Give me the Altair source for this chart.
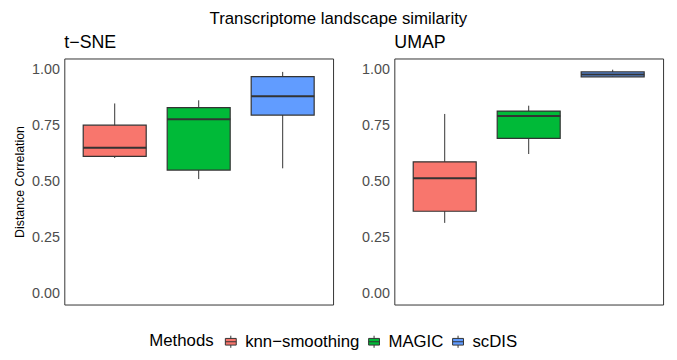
import altair as alt
import pandas as pd

methods = ["knn\u2212smoothing", "MAGIC", "scDIS"]
colors = ["#F8766D", "#00BA38", "#619CFF"]
panels = ["t\u2212SNE", "UMAP"]

# box statistics per panel (order follows `methods`)
tsne_lower = [0.605, 0.511, 0.559]
tsne_q1 = [0.612, 0.551, 0.797]
tsne_median = [0.651, 0.778, 0.881]
tsne_q3 = [0.752, 0.830, 0.969]
tsne_upper = [0.849, 0.863, 0.990]

umap_lower = [0.315, 0.623, 0.968]
umap_q1 = [0.367, 0.693, 0.968]
umap_median = [0.515, 0.793, 0.978]
umap_q3 = [0.588, 0.815, 0.990]
umap_upper = [0.802, 0.839, 1.000]

y_ticks = [0.0, 0.25, 0.5, 0.75, 1.0]


def frame(lower, q1, median, q3, upper):
    return pd.DataFrame({"method": methods, "lower": lower, "q1": q1,
                         "median": median, "q3": q3, "upper": upper})


data = {
    panels[0]: frame(tsne_lower, tsne_q1, tsne_median, tsne_q3, tsne_upper),
    panels[1]: frame(umap_lower, umap_q1, umap_median, umap_q3, umap_upper),
}

box_path = ("M-0.9,-0.55H0.9V0.55H-0.9Z M-0.9,0H0.9 "
            "M0,-1V-0.55 M0,0.55V1")

color_scale = alt.Scale(domain=methods, range=colors)


def panel(name, show_title):
    df = data[name]
    base = alt.Chart(df)
    x = alt.X("method:N", sort=methods, axis=None,
              scale=alt.Scale(paddingInner=0, paddingOuter=0.1))
    yscale = alt.Scale(domain=[-0.05, 1.05], nice=False, zero=False)
    yaxis = alt.Axis(values=y_ticks, format=".2f", grid=False, ticks=False,
                     domain=False, labelFontSize=14.5, labelColor="#4D4D4D",
                     labelPadding=5, labelFont="Liberation Sans",
                     title="Distance Correlation" if show_title else None,
                     titleFontSize=12.5, titleFontWeight="normal",
                     titleColor="black", titlePadding=5,
                     titleFont="Liberation Sans")
    whisker = base.mark_rule(color="#333333", strokeWidth=1).encode(
        x=x,
        y=alt.Y("lower:Q", scale=yscale, axis=yaxis),
        y2="upper:Q",
    )
    box = base.mark_bar(width={"band": 0.75}, stroke="#333333",
                        strokeWidth=1.2, opacity=1).encode(
        x=x,
        y=alt.Y("q1:Q", scale=yscale),
        y2="q3:Q",
        color=alt.Color("method:N", scale=color_scale, legend=alt.Legend(
            title="Methods", orient="none", direction="horizontal",
            legendX=86, legendY=278, titleOrient="left",
            titleFontSize=17, titleFontWeight="normal", titleColor="black",
            titleFont="Liberation Sans", titlePadding=8,
            labelFontSize=17, labelColor="black", labelFont="Liberation Sans",
            labelOffset=6, columnPadding=6,
            symbolType=box_path, symbolSize=150,
            symbolStrokeColor="#333333", symbolStrokeWidth=1,
            symbolOpacity=1)),
    )
    med = base.mark_tick(color="#333333", thickness=2, size=64,
                         opacity=1).encode(
        x=x,
        y=alt.Y("median:Q", scale=yscale),
    )
    return alt.layer(whisker, box, med).properties(
        width=272, height=249,
        title=alt.TitleParams(name, anchor="start", frame="group",
                              fontSize=18, fontWeight="normal",
                              font="Liberation Sans", color="black",
                              offset=7),
    )


chart = alt.hconcat(panel(panels[0], True), panel(panels[1], False),
                    spacing=27).properties(
    title=alt.TitleParams("Transcriptome landscape similarity",
                          anchor="middle", fontSize=17, fontWeight="normal",
                          font="Liberation Sans", color="black", offset=5),
    padding={"left": 5, "top": 0, "right": 5, "bottom": 5},
).configure_view(stroke="#333333", strokeWidth=1)

chart.save("out.html", embed_options={"renderer": "svg", "actions": False})
